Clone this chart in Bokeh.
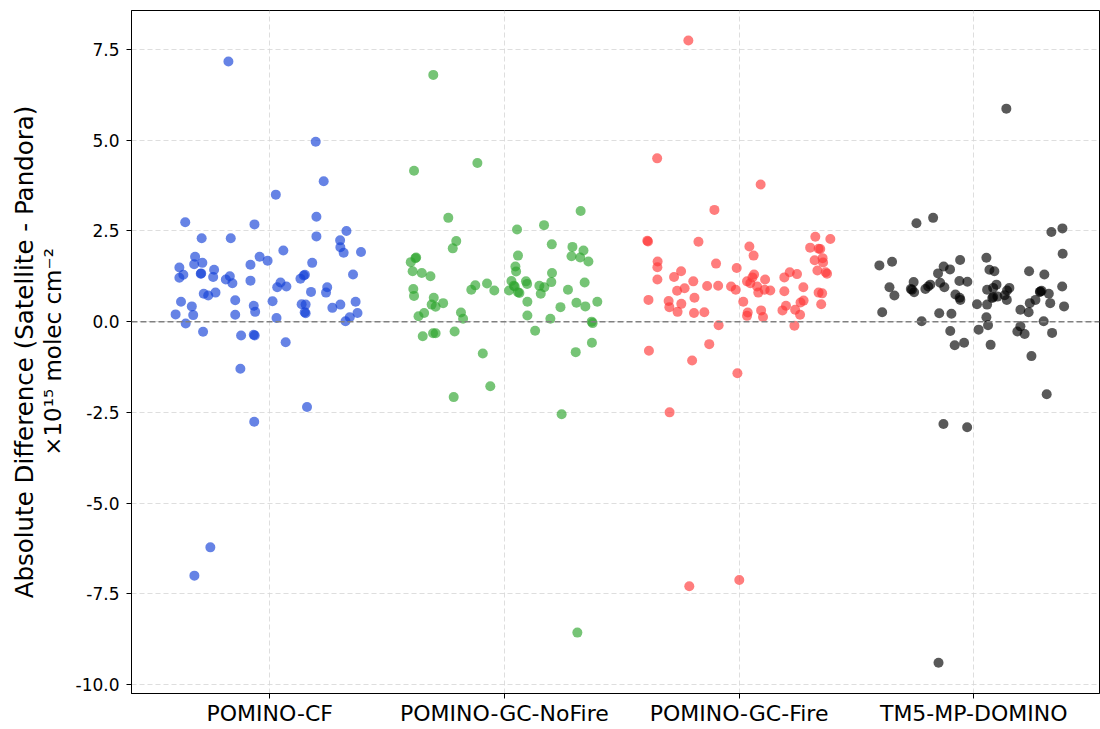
from bokeh.plotting import figure
from bokeh.models import FixedTicker, NumeralTickFormatter, Span, ColumnDataSource, Range1d, LinearAxis
from bokeh.embed import file_html
from bokeh.resources import INLINE

categories = ["POMINO-CF", "POMINO-GC-NoFire", "POMINO-GC-Fire", "TM5-MP-DOMINO"]
colors = ["#1441D7", "#2CA52C", "#FF3737", "#000000"]
y_ticks = [-10.0, -7.5, -5.0, -2.5, 0.0, 2.5, 5.0, 7.5]
y_label_line1 = "Absolute Difference (Satellite - Pandora)"
y_label_line2 = "\u00d710\u00b9\u2075 molec cm\u207b\u00b2"

cf_values = [4.96, 3.87, 3.50, 2.74, 2.68, 2.89, 2.50, 2.30, 2.30, 2.35, 2.24, 2.05, 1.90, 1.92, 1.96,
             1.79, 1.79, 1.68, 1.58, 1.62, 1.57, 1.62, 1.49, 1.43, 1.29, 1.21, 1.32, 1.33, 1.23, 1.16,
             1.25, 1.06, 1.13, 1.08, 0.95, 0.97, 1.18, 1.27, 1.29, 0.82, 0.95, 0.80, 1.30, 0.77, 0.72,
             0.80, 0.55, 0.42, 0.20, 0.18, -0.05, -0.28, 0.59, 0.19, 0.44, 0.27, -0.38, -0.36, -0.38,
             0.56, 0.10, -0.57, 0.48, 0.47, 0.23, 0.26, 0.38, 0.47, 0.55, 0.24, 0.12, 0.01, -1.30,
             -2.35, -2.76, 7.17, -7.00, -6.22]
cf_jitter = [0.196, 0.230, 0.026, -0.360, -0.065, 0.199, 0.327, -0.290, -0.166, 0.199, 0.300, 0.301,
             0.315, 0.389, 0.058, -0.318, -0.043, -0.009, -0.322, -0.287, -0.082, 0.181, -0.385, -0.237,
             -0.368, -0.385, -0.294, -0.292, -0.241, -0.187, -0.170, -0.159, -0.082, 0.046, 0.032, 0.071,
             0.131, 0.145, 0.150, 0.176, 0.245, 0.240, 0.355, -0.281, -0.262, -0.231, -0.378, -0.332,
             -0.401, -0.326, -0.358, -0.284, -0.147, -0.147, -0.068, -0.062, -0.122, -0.068, -0.064,
             0.012, 0.029, 0.068, 0.136, 0.153, 0.153, 0.149, 0.267, 0.301, 0.366, 0.374, 0.341, 0.323,
             -0.125, 0.159, -0.066, -0.176, -0.321, -0.253]

nofire_values = [4.16, 4.37, 2.86, 2.22, 2.02, 3.05, 2.54, 2.66, 2.13, 2.06, 1.96, 1.80, 1.77, 1.66,
                 1.82, 1.52, 1.38, 1.75, 1.77, 1.64, 1.39, 1.34, 1.25, 0.90, 1.00, 1.05, 0.86, 1.12,
                 0.99, 0.97, 1.11, 1.04, 0.99, 0.95, 1.09, 1.34, 0.88, 1.08, 0.88, 0.71, 0.66, 0.47,
                 0.41, 0.51, 0.24, 0.15, -0.40, -0.32, -0.32, -0.27, 0.25, 0.08, -0.88, -1.78, -2.08,
                 0.86, 0.79, 0.81, 0.55, 0.17, -0.25, 0.77, 0.08, 0.40, 0.52, 0.42, 0.55, 0.00, -0.04,
                 -0.58, -0.84, -2.55, 6.80, -8.57]
nofire_jitter = [-0.385, -0.115, -0.239, -0.205, -0.220, 0.325, 0.054, 0.169, 0.202, 0.290, 0.337,
                 0.286, 0.323, 0.358, 0.058, 0.047, 0.050, -0.379, -0.376, -0.399, -0.391, -0.352,
                 -0.315, -0.388, -0.124, -0.074, -0.043, 0.030, 0.040, 0.044, 0.092, 0.097, 0.149,
                 0.170, 0.200, 0.203, 0.271, 0.342, -0.141, -0.385, -0.301, -0.310, -0.293, -0.261,
                 -0.342, -0.366, -0.348, -0.304, -0.293, -0.212, -0.185, -0.176, -0.092, -0.060,
                 -0.216, 0.020, 0.064, 0.058, 0.098, 0.098, 0.131, 0.155, 0.196, 0.239, 0.307, 0.345,
                 0.396, 0.372, 0.376, 0.373, 0.304, 0.244, -0.303, 0.311]

fire_values = [4.50, 3.78, 3.08, 2.23, 2.21, 2.20, 2.07, 1.82, 2.34, 2.28, 2.04, 2.01, 2.00, 1.69, 1.75,
               1.63, 1.41, 1.36, 1.32, 1.66, 1.50, 1.16, 1.23, 1.39, 1.11, 1.60, 1.48, 1.30, 1.22, 1.11,
               1.06, 1.16, 1.22, 1.36, 1.31, 0.95, 0.98, 0.99, 0.97, 0.88, 0.92, 0.85, 0.97, 0.86, 0.84,
               0.80, 0.88, 0.80, 0.78, 0.48, 0.60, 0.57, 0.40, 0.27, 0.49, 0.66, 0.24, 0.26, -0.10,
               -0.62, -1.07, -0.80, -1.42, -2.50, 0.55, 0.25, 0.16, 0.31, 0.13, 0.31, 0.44, 0.33, 0.19,
               0.53, 0.58, -0.11, 7.75, -7.29, -7.12]
fire_jitter = [-0.349, 0.092, -0.105, -0.391, -0.388, -0.173, 0.044, 0.062, 0.325, 0.389, 0.303, 0.339,
               0.346, 0.322, 0.356, 0.358, 0.334, 0.369, 0.375, -0.347, -0.348, -0.348, -0.277, -0.247,
               -0.195, -0.098, -0.010, 0.064, 0.057, 0.034, 0.048, 0.111, 0.193, 0.216, 0.247, 0.274,
               -0.136, -0.089, -0.034, -0.014, -0.232, -0.264, 0.077, 0.133, 0.193, 0.082, 0.109, 0.339,
               0.354, 0.350, -0.386, -0.300, -0.297, -0.262, -0.246, -0.190, -0.192, -0.148, -0.087,
               -0.127, -0.200, -0.384, -0.007, -0.296, 0.018, 0.037, 0.034, 0.094, 0.102, 0.185, 0.200,
               0.239, 0.260, 0.262, 0.275, 0.236, -0.216, -0.212, 0.001]

tm5_values = [2.71, 2.86, 2.47, 2.57, 1.87, 1.55, 1.65, 1.70, 1.52, 1.44, 1.33, 1.09, 1.02, 0.97, 1.07,
              0.95, 1.12, 1.10, 1.76, 1.43, 1.39, 1.39, 1.30, 0.97, 0.95, 0.90, 0.88, 0.90, 0.88, 0.93,
              1.02, 0.93, 0.83, 0.85, 0.72, 0.26, 0.81, 0.75, 0.66, 0.60, 0.23, 0.22, 0.01, -0.26, -0.65,
              -0.58, 0.48, 0.12, 0.47, -0.10, -0.22, -0.64, 0.65, 0.68, 0.69, 0.73, 0.60, 0.86, 0.33,
              0.26, 0.51, 0.60, -0.13, -0.27, -0.34, 0.82, 0.77, 0.51, 0.42, 0.01, -0.31, -0.95, -2.00,
              -2.82, -2.91, 5.87, -9.40]
tm5_jitter = [-0.244, -0.173, 0.331, 0.378, 0.379, -0.402, -0.348, -0.058, -0.128, -0.101, -0.152,
              -0.256, -0.185, -0.194, -0.143, -0.125, -0.061, -0.027, 0.054, 0.067, 0.088, 0.236, 0.301,
              0.377, -0.359, -0.268, -0.263, -0.206, 0.057, 0.083, 0.097, 0.152, 0.284, 0.289, -0.338,
              -0.390, -0.254, -0.078, -0.060, -0.057, -0.147, -0.095, -0.222, -0.100, -0.081, -0.041,
              0.014, 0.054, 0.057, 0.061, 0.021, 0.072, 0.079, 0.083, 0.101, 0.132, 0.141, 0.142, 0.199,
              0.234, 0.239, 0.263, 0.199, 0.186, 0.217, 0.282, 0.320, 0.326, 0.385, 0.298, 0.334, 0.246,
              0.311, -0.129, -0.028, 0.139, -0.150]

series_values = [cf_values, nofire_values, fire_values, tm5_values]
series_jitter = [cf_jitter, nofire_jitter, fire_jitter, tm5_jitter]

FONT = "DejaVu Sans"

p = figure(width=1100, height=729, output_backend="svg", toolbar_location=None,
           x_range=Range1d(-0.589, 3.536), y_range=Range1d(-10.248, 8.575),
           min_border_left=131, min_border_right=1, min_border_top=10, min_border_bottom=36)

# grid
p.xgrid.ticker = FixedTicker(ticks=[0, 1, 2, 3])
p.ygrid.ticker = FixedTicker(ticks=y_ticks)
for g in (p.xgrid, p.ygrid):
    g.grid_line_color = "#d6d6d6"
    g.grid_line_dash = "5 3"
    g.grid_line_width = 1
    g.grid_line_alpha = 0.8

zero = Span(location=0, dimension="width", line_color="#808080", line_dash="6 3", line_width=1.5)
p.add_layout(zero)

for i, (vals, jit) in enumerate(zip(series_values, series_jitter)):
    src = ColumnDataSource(dict(x=[i + j for j in jit], y=vals))
    p.scatter("x", "y", source=src, size=10, fill_color=colors[i], fill_alpha=0.65,
              line_color=None)

# axes
p.xaxis.ticker = FixedTicker(ticks=[0, 1, 2, 3])
p.xaxis.major_label_overrides = {i: c for i, c in enumerate(categories)}
p.yaxis.ticker = FixedTicker(ticks=y_ticks)
p.yaxis.formatter = NumeralTickFormatter(format="0.0")

for ax in (p.xaxis, p.yaxis):
    ax.axis_line_color = "black"
    ax.axis_line_width = 1
    ax.major_tick_line_color = "black"
    ax.major_tick_out = 5
    ax.major_tick_in = 0
    ax.minor_tick_line_color = None
    ax.major_label_text_font = FONT
    ax.major_label_text_color = "black"

p.xaxis.major_label_text_font_size = "22px"
p.xaxis.major_label_standoff = 2
p.yaxis.major_label_text_font_size = "17px"
p.yaxis.major_label_standoff = 7

# second line of the y label (closest to the axis)
p.yaxis.axis_label = y_label_line2
p.yaxis.axis_label_text_font = FONT
p.yaxis.axis_label_text_font_style = "normal"
p.yaxis.axis_label_text_font_size = "23px"
p.yaxis.axis_label_text_color = "black"
p.yaxis.axis_label_standoff = 7

# first line of the y label on an outer, tick-less axis
outer = LinearAxis(ticker=FixedTicker(ticks=[]), axis_line_color=None,
                   major_tick_line_color=None, minor_tick_line_color=None,
                   major_tick_out=0, major_tick_in=0, major_label_standoff=0,
                   axis_label=y_label_line1, axis_label_text_font=FONT,
                   axis_label_text_font_style="normal", axis_label_text_font_size="24.5px",
                   axis_label_text_color="black", axis_label_standoff=-2)
p.add_layout(outer, "left")

p.outline_line_color = "black"
p.outline_line_width = 1
p.outline_line_alpha = 1
p.background_fill_color = "white"
p.border_fill_color = "white"

open("out.html", "w").write(file_html(p, INLINE))
